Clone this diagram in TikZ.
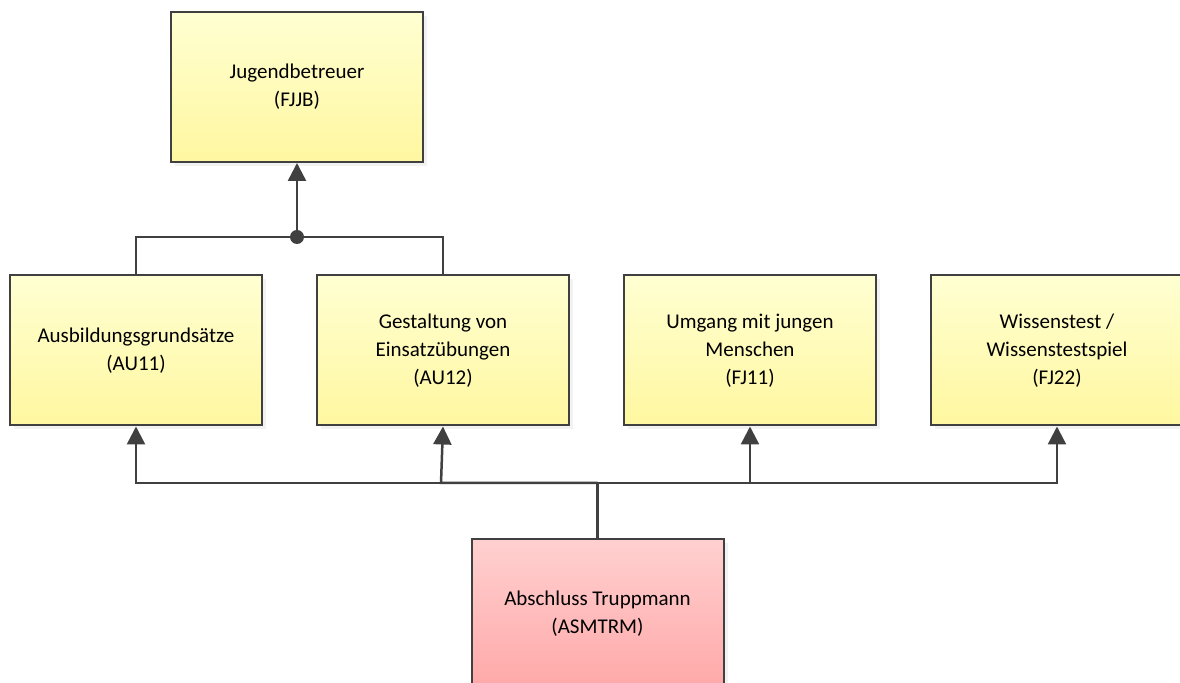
\documentclass[tikz,border=0pt]{standalone}
\usepackage{fontspec}
\setmainfont{Carlito}
\usetikzlibrary{arrows.meta,shadows}

\definecolor{linegray}{HTML}{404040}
\definecolor{yelltop}{HTML}{FFFFD2}
\definecolor{yellbot}{HTML}{FFF7A0}
\definecolor{redtop}{HTML}{FFD0D0}
\definecolor{redbot}{HTML}{FFA8A8}

\begin{document}
\begin{tikzpicture}[x=0.5pt,y=-0.5pt,
  modul/.style={draw=linegray,line width=1pt,minimum width=126pt,minimum height=75pt,
    align=center,font=\fontsize{10.5}{14}\selectfont,top color=yelltop,bottom color=yellbot,
    drop shadow={shadow xshift=2pt,shadow yshift=-2pt,fill=black!10}},
  abschluss/.style={modul,top color=redtop,bottom color=redbot},
  verb/.style={draw=linegray,line width=1.25pt},
  pfeil/.style={verb,-{Triangle[length=9pt,width=9pt]}}]

\useasboundingbox (0,0) rectangle (1180,683);

\node[modul] (fjjb) at (297,87) {Jugendbetreuer\\(FJJB)};

\node[modul] (au11) at (136,350.5) {Ausbildungsgrundsätze\\(AU11)};
\node[modul] (au12) at (443,350.5) {Gestaltung von\\Einsatzübungen\\(AU12)};
\node[modul] (fj11) at (750,350.5) {Umgang mit jungen\\Menschen\\(FJ11)};
\node[modul] (fj22) at (1057,350.5) {Wissenstest /\\Wissenstestspiel\\(FJ22)};

\node[abschluss] (asmtrm) at (597.5,614) {Abschluss Truppmann\\(ASMTRM)};

\coordinate (oben) at (297,237);
\coordinate (unten) at (597.5,483);
\coordinate (knick) at (441,483);

% obere Ebene
\draw[verb] (au11.north) |- (oben) -| (au12.north);
\draw[pfeil] (oben) -- (fjjb.south);
\fill[linegray] (oben) circle (3.5pt);

% untere Ebene
\draw[verb] (asmtrm.north) -- (unten);
\draw[pfeil] (unten) -| (au11.south);
\draw[pfeil] (unten) -- (knick) -- (au12.south);
\draw[pfeil] (unten) -| (fj11.south);
\draw[pfeil] (unten) -| (fj22.south);

\end{tikzpicture}
\end{document}
